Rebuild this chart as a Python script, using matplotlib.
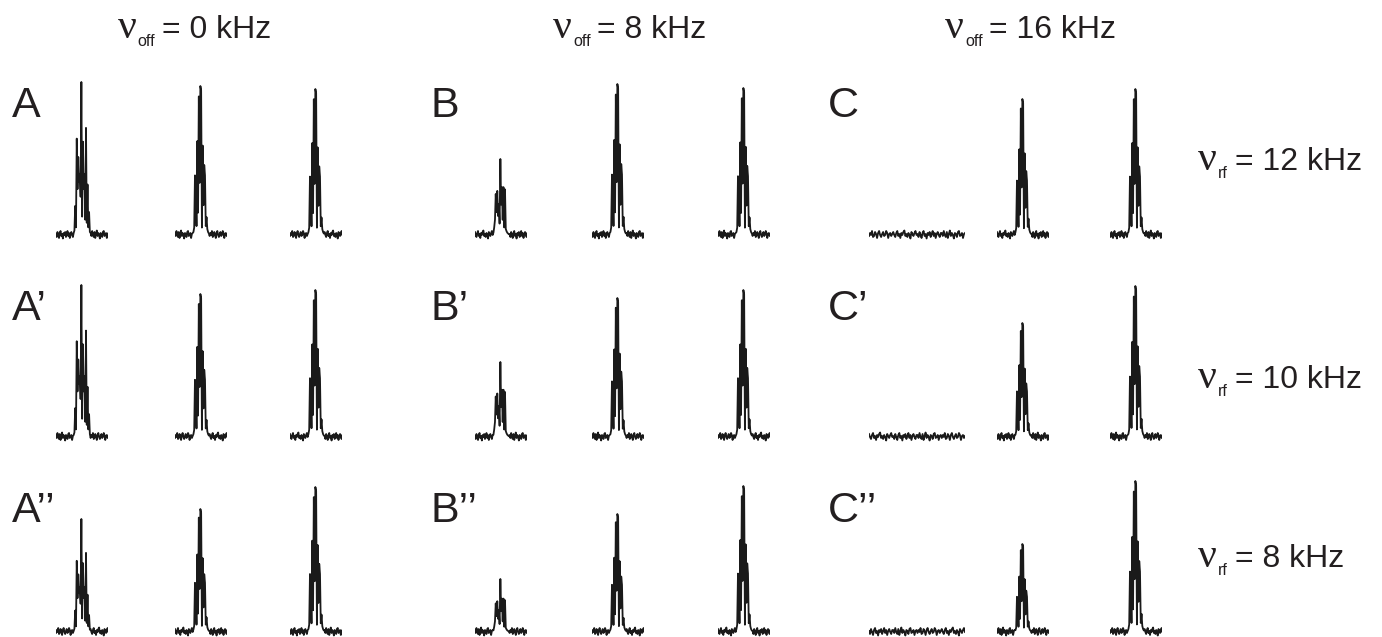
import numpy as np
import matplotlib.pyplot as plt

plt.rcParams['font.family'] = ['Liberation Sans', 'DejaVu Sans']

W, H = 1382, 637

# --- data (intensities in arbitrary units) ---
col_subs = ['off', 'off', 'off']
col_values = ['= 0 kHz', '= 8 kHz', '= 16 kHz']
row_subs = ['rf', 'rf', 'rf']
row_values = ['= 12 kHz', '= 10 kHz', '= 8 kHz']
panel_letters = [['A', 'B', 'C'],
                 ['A\u2019', 'B\u2019', 'C\u2019'],
                 ['A\u2019\u2019', 'B\u2019\u2019', 'C\u2019\u2019']]

# peak height of each spectrum: [row][column][spectrum]
peak_heights = [
    [[153, 149, 146], [76, 151, 147], [0, 136, 146]],
    [[152, 143, 147], [75, 139, 147], [0, 114, 151]],
    [[113, 123, 145], [53, 118, 146], [0, 88, 151]],
]
# which line shape each spectrum has, per column
shapes = [['wide', 'narrow', 'narrow'],
          ['small', 'narrow', 'narrow'],
          ['flat', 'narrow', 'narrow']]

# multiplet line shapes (normalised to the tallest line)
profile_narrow = [0.02, 0.05, 0.40, 0.30, 0.06, 0.63, 0.15, 0.93, 0.35, 1.00, 0.97,
                  0.05, 0.60, 0.20, 0.47, 0.40, 0.06, 0.12, 0.04, 0.02, 0.01]
profile_wide = [0.03, 0.19, 0.05, 0.63, 0.30, 0.51, 0.35, 0.40, 0.25, 1.00, 0.12,
                0.61, 0.30, 0.40, 0.10, 0.70, 0.08, 0.33, 0.05, 0.15, 0.02]
profile_small = [0.03, 0.10, 0.20, 0.54, 0.30, 0.58, 0.25, 0.41, 0.15, 1.00, 0.40,
                 0.63, 0.20, 0.63, 0.10, 0.60, 0.08, 0.05, 0.03, 0.02, 0.01]
profiles = {'narrow': profile_narrow, 'wide': profile_wide, 'small': profile_small}

# baseline noise traces
noise_a = [1.0, -2.0, 3.0, 0.0, -3.0, 2.0, 4.0, -1.0, 1.0, -3.5, 2.0, 0.0,
           3.0, -2.0, 1.0, 4.0, -1.0, 2.0, -3.0, 1.0, 3.0, 0.0, -2.0, 2.0]
noise_b = [2.0, -1.0, 4.0, 0.0, -2.0, 3.0, -3.0, 1.0, 4.5, -1.0, 2.0, 0.0,
           -3.5, 2.0, 1.0, -2.0, 3.0, 4.0, -1.0, 0.0, 2.0, -3.0, 1.0, 2.0]
noise_c = [-1.0, 2.0, 0.0, 4.0, -2.0, -1.0, 3.0, 1.0, -3.0, 2.0, 4.0, 0.0,
           -2.0, 1.0, 3.0, -1.0, 0.0, 4.0, 2.0, -3.0, 1.0, 2.0, -1.0, 1.0]
noise_d = [3.0, 0.0, -2.0, 2.0, 4.0, -1.0, 1.0, -3.0, 2.0, 0.0, 3.0, 4.5,
           -1.0, 1.0, -2.0, 2.0, 0.0, -3.5, 3.0, 1.0, -1.0, 2.0, 4.0, 0.0]
noises = [noise_a, noise_b, noise_c, noise_d]

# --- layout (pixels) ---
row_baseline = [235, 437, 632]
peak_x = [[81, 200, 315], [500, 617, 743], [917, 1022, 1135]]
step = 0.76          # px per data point in a spectrum
flat_step = 1.0
letter_x = [12, 430, 828]
letter_base = [117, 320, 522]
title_x = [118, 553, 945]
title_base = 38
label_x = 1198
label_base = [170, 388, 567]

fig = plt.figure(figsize=(W / 100, H / 100), dpi=100)
renderer = fig.canvas.get_renderer()
ink = '#231f20'

for r in range(3):
    base = row_baseline[r]
    for c in range(3):
        for s in range(3):
            kind = shapes[c][s]
            k = (r * 9 + c * 3 + s) % 4
            if kind == 'flat':
                y = np.array(noises[k] + noises[(k + 1) % 4] + noises[(k + 2) % 4] + noises[(k + 3) % 4])
                x = np.arange(len(y))
                width = len(y) * flat_step
                left = peak_x[c][s] - width / 2
            else:
                left_n = noises[k]
                right_n = noises[(k + 1) % 4]
                prof = np.array(profiles[kind]) * peak_heights[r][c][s]
                y = np.concatenate([left_n, prof, right_n])
                x = np.arange(len(y))
                width = len(y) * step
                left = peak_x[c][s] - (len(left_n) + 9) * step
            ax = fig.add_axes([left / W, 1 - (base + 6) / H, width / W, 166 / H])
            ax.plot(x, y, color='#1a1a1a', lw=1.3)
            ax.set_xlim(0, len(y) - 1)
            ax.set_ylim(-6, 160)
            ax.axis('off')
        fig.text(letter_x[c] / W, 1 - letter_base[r] / H, panel_letters[r][c],
                 fontsize=31, color=ink, ha='left', va='baseline')


def nu_label(x, ybase, sub, rest, size):
    # nu symbol, small subscript, then the value text
    t1 = fig.text(x / W, 1 - ybase / H, '\u03bd', family='Liberation Serif',
                  fontsize=size * 1.3, color=ink, va='baseline')
    bb = t1.get_window_extent(renderer)
    t2 = fig.text((bb.x1 + 1) / W, 1 - (ybase + size * 0.35) / H, sub,
                  fontsize=size * 0.5, color=ink, va='baseline')
    bb2 = t2.get_window_extent(renderer)
    fig.text((bb2.x1 + size * 0.3) / W, 1 - ybase / H, rest,
             fontsize=size, color=ink, va='baseline')


for c in range(3):
    nu_label(title_x[c], title_base, col_subs[c], col_values[c], 23)
for r in range(3):
    nu_label(label_x, label_base[r], row_subs[r], row_values[r], 23)

fig.savefig('out.png', dpi=100)
